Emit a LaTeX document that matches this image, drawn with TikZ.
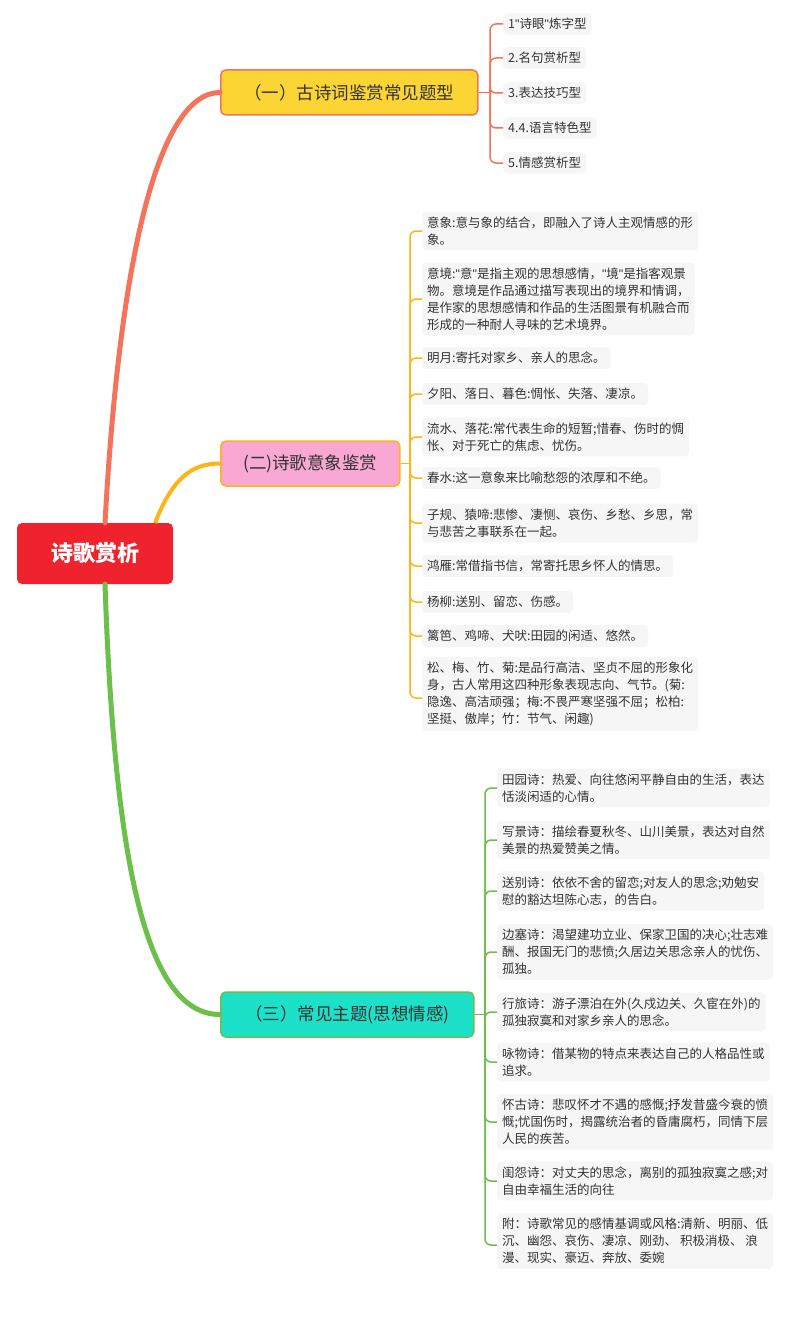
\documentclass[tikz,border=0pt]{standalone}
\usepackage{fontspec}
\setmainfont{Noto Sans CJK SC}
\newfontfamily\plainq[Ligatures=ResetAll]{Liberation Sans}
\newcommand{\sq}{{\plainq"}}
\definecolor{rootred}{HTML}{F0222E}
\definecolor{salmon}{HTML}{F4735B}
\definecolor{yel}{HTML}{FCD535}
\definecolor{orng}{HTML}{FDB515}
\definecolor{pink}{HTML}{F9A8D4}
\definecolor{teal}{HTML}{1CE0C8}
\definecolor{grn}{HTML}{6CC04A}
\definecolor{leafbg}{HTML}{F6F6F6}
\definecolor{txt}{HTML}{333333}
\tikzset{
  leaf/.style={anchor=west,fill=leafbg,rounded corners=4pt,align=left,inner xsep=5pt,inner ysep=5pt,text=txt,font=\fontsize{12.5}{17}\selectfont},
  branchbox/.style={rounded corners=5pt,line width=1.5pt,minimum height=45pt,text=txt,font=\fontsize{17.5}{20}\selectfont,anchor=west},
}
\begin{document}
\begin{tikzpicture}[x=1pt,y=-1pt]
\useasboundingbox (0,0) rectangle (800,1319);
\fill[white] (0,0) rectangle (800,1319);
% root
\node[fill=rootred,rounded corners=5pt,minimum width=156pt,minimum height=61pt,text=white,font=\fontsize{22}{24}\selectfont\bfseries] (root) at (95,553.5) {诗歌赏析};
% branches
\node[branchbox,fill=yel,draw=salmon,minimum width=257pt] (A) at (220,92.5) {（一）古诗词鉴赏常见题型};
\node[branchbox,fill=pink,draw=orng,minimum width=179pt] (B) at (220,463.5) {(二)诗歌意象鉴赏};
\node[branchbox,fill=teal,draw=grn,minimum width=253pt] (C) at (220,1014.5) {（三）常见主题(思想情感)};
% root connectors
\draw[salmon,line width=5pt,line cap=round] (105,523) .. controls (120,250) and (160,92.5) .. (A.west);
\draw[orng,line width=4pt] (155,523) .. controls (172,480) and (190,463.5) .. (B.west);
\draw[grn,line width=5pt,line cap=round] (105,584) .. controls (115,880) and (150,1014.5) .. (C.west);
% group 1
\node[leaf] (a1) at (503,24) {1\sq 诗眼\sq 炼字型};
\node[leaf] (a2) at (503,58) {2.名句赏析型};
\node[leaf] (a3) at (503,93) {3.表达技巧型};
\node[leaf] (a4) at (503,128) {4.4.语言特色型};
\node[leaf] (a5) at (503,163) {5.情感赏析型};
\coordinate (ja) at (490,92.5);
\draw[salmon,line width=1.5pt] (A.east) -- (ja);
\foreach \n in {a1,a2,a3,a4,a5}{\draw[salmon,line width=1.5pt,rounded corners=6pt] (ja) |- (\n.west);}
% group 2
\node[leaf] (b1) at (422,231) {意象:意与象的结合，即融入了诗人主观情感的形\\象。};
\node[leaf] (b2) at (422,299) {意境:\sq 意\sq 是指主观的思想感情，\sq 境\sq 是指客观景\\物。意境是作品通过描写表现出的境界和情调，\\是作家的思想感情和作品的生活图景有机融合而\\形成的一种耐人寻味的艺术境界。};
\node[leaf] (b3) at (422,358) {明月:寄托对家乡、亲人的思念。};
\node[leaf] (b4) at (422,394) {夕阳、落日、暮色:惆怅、失落、凄凉。};
\node[leaf] (b5) at (422,437) {流水、落花:常代表生命的短暂;惜春、伤时的惆\\怅、对于死亡的焦虑、忧伤。};
\node[leaf] (b6) at (422,478) {春水:这一意象来比喻愁怨的浓厚和不绝。};
\node[leaf] (b7) at (422,523) {子规、猿啼:悲惨、凄恻、哀伤、乡愁、乡思，常\\与悲苦之事联系在一起。};
\node[leaf] (b8) at (422,566) {鸿雁:常借指书信，常寄托思乡怀人的情思。};
\node[leaf] (b9) at (422,602) {杨柳:送别、留恋、伤感。};
\node[leaf] (b10) at (422,636) {篱笆、鸡啼、犬吠:田园的闲适、悠然。};
\node[leaf] (b11) at (422,694) {松、梅、竹、菊:是品行高洁、坚贞不屈的形象化\\身，古人常用这四种形象表现志向、气节。(菊:\\隐逸、高洁顽强；梅:不畏严寒坚强不屈；松柏:\\坚挺、傲岸；竹：节气、闲趣)};
\coordinate (jb) at (410,463.5);
\draw[orng,line width=1.5pt] (B.east) -- (jb);
\foreach \n in {b1,b2,b3,b4,b5,b6,b7,b8,b9,b10}{\draw[orng,line width=1.5pt,rounded corners=6pt] (jb) |- (\n.west);}
\draw[orng,line width=1.5pt,rounded corners=6pt] (jb) |- ([yshift=-4pt]b11.west);
% group 3
\node[leaf] (c1) at (497,788) {田园诗：热爱、向往悠闲平静自由的生活，表达\\恬淡闲适的心情。};
\node[leaf] (c2) at (497,840) {写景诗：描绘春夏秋冬、山川美景，表达对自然\\美景的热爱赞美之情。};
\node[leaf] (c3) at (497,891) {送别诗：依依不舍的留恋;对友人的思念;劝勉安\\慰的豁达坦陈心志，的告白。};
\node[leaf] (c4) at (497,952) {边塞诗：渴望建功立业、保家卫国的决心;壮志难\\酬、报国无门的悲愤;久居边关思念亲人的忧伤、\\孤独。};
\node[leaf] (c5) at (497,1012) {行旅诗：游子漂泊在外(久戍边关、久宦在外)的\\孤独寂寞和对家乡亲人的思念。};
\node[leaf] (c6) at (497,1062) {咏物诗：借某物的特点来表达自己的人格品性或\\追求。};
\node[leaf] (c7) at (497,1122) {怀古诗：悲叹怀才不遇的感慨;抒发昔盛今衰的愤\\慨;忧国伤时，揭露统治者的昏庸腐朽，同情下层\\人民的疾苦。};
\node[leaf] (c8) at (497,1181) {闺怨诗：对丈夫的思念，离别的孤独寂寞之感;对\\自由幸福生活的向往};
\node[leaf] (c9) at (497,1241) {附：诗歌常见的感情基调或风格:清新、明丽、低\\沉、幽怨、哀伤、凄凉、刚劲、 积极消极、 浪\\漫、现实、豪迈、奔放、委婉};
\coordinate (jc) at (485,1014.5);
\draw[grn,line width=1.5pt] (C.east) -- (jc);
\foreach \n in {c1,c2,c3,c4,c5,c6,c7,c8}{\draw[grn,line width=1.5pt,rounded corners=6pt] (jc) |- (\n.west);}
\draw[grn,line width=1.5pt,rounded corners=6pt] (jc) |- ([yshift=-4pt]c9.west);
\end{tikzpicture}
\end{document}
